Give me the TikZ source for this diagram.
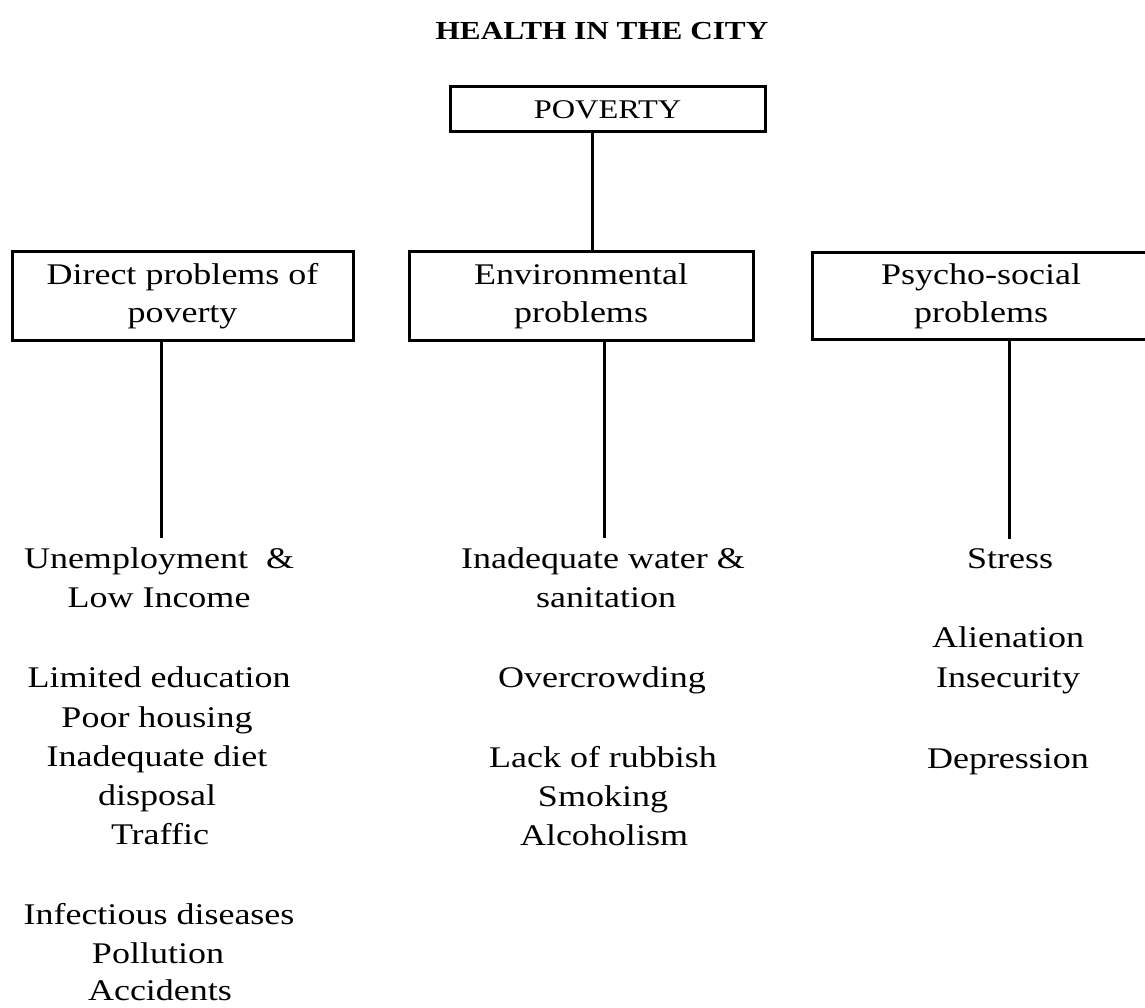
\documentclass[tikz,border=0pt]{standalone}
\usepackage{fontspec}
\setmainfont[FakeStretch=1.2]{Liberation Serif}
\begin{document}
\begin{tikzpicture}[x=1pt,y=-1pt,
  box/.style={draw, line width=3pt, inner sep=0pt, align=center,
    font=\fontsize{30}{38}\selectfont},
  item/.style={anchor=base, inner sep=0pt, font=\fontsize{30}{36}\selectfont},
  link/.style={line width=3pt},
  ttl/.style={anchor=base, inner sep=0pt, font=\fontsize{26}{30}\selectfont\bfseries}]
\useasboundingbox (0,0) rectangle (1145,1008);

\node[ttl] (title) at (602,40) {HEALTH IN THE CITY};

\node[box, minimum width=315pt, minimum height=45pt,
  font=\fontsize{27}{32}\selectfont] (pov) at (607.5,109.5) {POVERTY};

\node[box, minimum width=341pt, minimum height=88pt] (direct) at (182.5,296)
  {Direct problems of\\poverty};
\node[box, minimum width=344pt, minimum height=88pt] (env) at (581,296)
  {Environmental\\problems};
\node[box, minimum width=338pt, minimum height=86pt] (psy) at (981,296)
  {Psycho-social\\problems};

% left column
\node[item] (u1) at (159,568) {Unemployment~~\&};
\node[item] (u2) at (159,607) {Low Income};
\node[item] (u3) at (159,687) {Limited education};
\node[item] (u4) at (157,727) {Poor housing};
\node[item] (u5) at (157,766) {Inadequate diet};
\node[item] (u6) at (157,805) {disposal};
\node[item] (u7) at (160,844) {Traffic};
\node[item] (u8) at (159,924) {Infectious diseases};
\node[item] (u9) at (158,963) {Pollution};
\node[item] (u10) at (160,1000) {Accidents};

% middle column
\node[item] (m1) at (603,568) {Inadequate water \&};
\node[item] (m2) at (606,607) {sanitation};
\node[item] (m3) at (602,687) {Overcrowding};
\node[item] (m4) at (603,767) {Lack of rubbish};
\node[item] (m5) at (603,806) {Smoking};
\node[item] (m6) at (604,845) {Alcoholism};

% right column
\node[item] (r1) at (1010,568) {Stress};
\node[item] (r2) at (1008,647) {Alienation};
\node[item] (r3) at (1008,687) {Insecurity};
\node[item] (r4) at (1008,768) {Depression};

% connectors
\draw[link] ([xshift=-15.5pt]pov.south) -- ([xshift=-15.5pt]pov.south |- env.north);
\draw[link] (direct.south -| 161,0) -- ([yshift=9pt]u1.north -| 161,0);
\draw[link] (env.south -| 604,0) -- ([yshift=9pt]m1.north -| 604,0);
\draw[link] (psy.south -| 1009,0) -- ([yshift=9pt]r1.north -| 1009,0);
\end{tikzpicture}
\end{document}
